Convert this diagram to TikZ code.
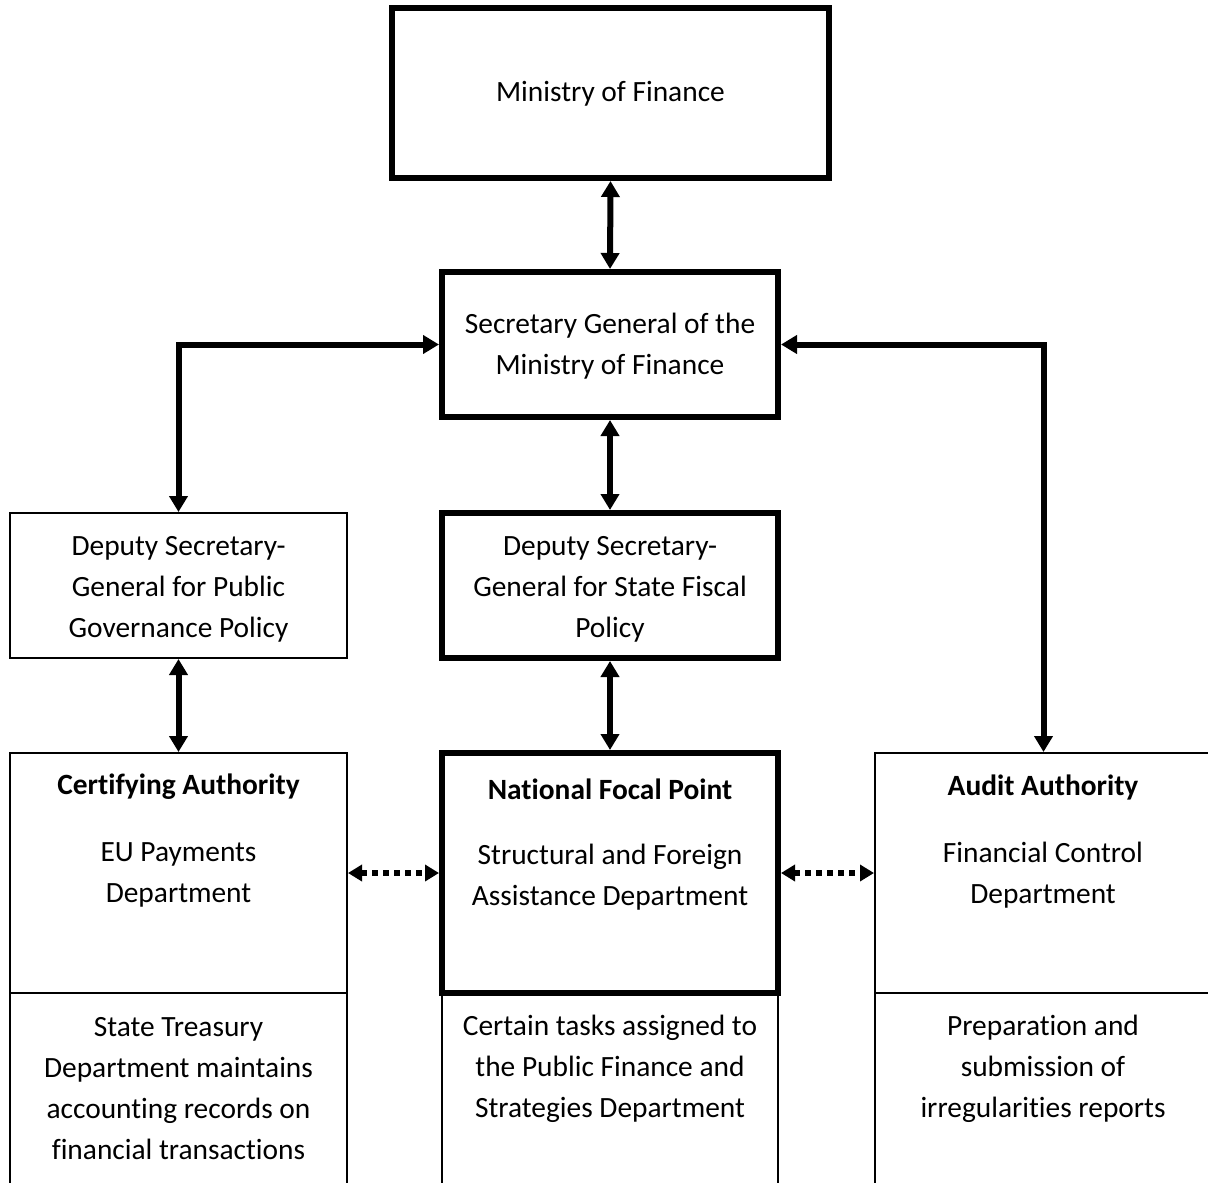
\documentclass[tikz,border=0pt]{standalone}
\usepackage{fontspec}
\setmainfont{Carlito}[Ligatures=NoCommon]
\usetikzlibrary{arrows.meta}
\begin{document}
\begin{tikzpicture}[x=0.5pt,y=-0.5pt,
 box/.style={draw, rectangle, inner sep=0pt},
 thickbox/.style={box, line width=3pt},
 thinbox/.style={box, line width=1pt},
 txt/.style={align=center, inner sep=0pt, font=\fontsize{14.7}{20.5}\selectfont},
 link/.style={line width=3pt, {Triangle[length=8pt,width=9pt]}-{Triangle[length=8pt,width=9pt]}},
 dotlink/.style={line width=3pt, dash pattern=on 3pt off 2.5pt, {Triangle[length=7pt,width=8pt]}-{Triangle[length=7pt,width=8pt]}},
]
\useasboundingbox (0,0) rectangle (1208,1182);
\clip (0,0) rectangle (1208,1182);
\fill[white] (0,0) rectangle (1208,1182);
% bottom sub-boxes (open at the bottom, clipped)
\node[thinbox, minimum width=168.5pt, minimum height=120pt] (cab) at (178.5,1113) {};
\node[thinbox, minimum width=168pt, minimum height=120pt] (nfpb) at (610,1113) {};
\node[thinbox, minimum width=168.5pt, minimum height=120pt] (aab) at (1043.5,1113) {};
% main boxes
\node[thickbox, minimum width=218.5pt, minimum height=85pt] (mof) at (610.5,93) {};
\node[thickbox, minimum width=168pt, minimum height=72.5pt] (sg) at (610,344.5) {};
\node[thinbox, minimum width=168.5pt, minimum height=72.5pt] (pgp) at (178.5,585.5) {};
\node[thickbox, minimum width=168pt, minimum height=72.5pt] (sfp) at (610,585.5) {};
\node[thinbox, minimum width=168.5pt, minimum height=120pt] (ca) at (178.5,873) {};
\node[thickbox, minimum width=168pt, minimum height=120pt] (nfp) at (610,873) {};
\node[thinbox, minimum width=168.5pt, minimum height=120pt] (aa) at (1043.5,873) {};
% texts
\node[txt] (tmof) at (610.5,94) {Ministry of Finance};
\node[txt] (tsg) at (610,346) {Secretary General of the\\Ministry of Finance};
\node[txt] (tpgp) at (178.5,589) {Deputy Secretary-\\General for Public\\Governance Policy};
\node[txt] (tsfp) at (610,589) {Deputy Secretary-\\General for State Fiscal\\Policy};
\node[txt] (tca) at (178.5,787) {\textbf{Certifying Authority}};
\node[txt] (tcab) at (178.5,875) {EU Payments\\Department};
\node[txt] (tnfp) at (610,789) {\textbf{National Focal Point}};
\node[txt] (tnfpb) at (610,877) {Structural and Foreign\\Assistance Department};
\node[txt] (taa) at (1043,787) {\textbf{Audit Authority}};
\node[txt] (taab) at (1043,875) {Financial Control\\Department};
\node[txt] (tcabb) at (178.5,1089) {State Treasury\\Department maintains\\accounting records on\\financial transactions};
\node[txt] (tnfpbb) at (610,1068.5) {Certain tasks assigned to\\the Public Finance and\\Strategies Department};
\node[txt] (taabb) at (1043,1068.5) {Preparation and\\submission of\\irregularities reports};
% connectors
\draw[link] (mof.south) -- (sg.north);
\draw[link] (sg.west) -| (pgp.north);
\draw[link] (sg.east) -| (aa.north);
\draw[link] (sg.south) -- (sfp.north);
\draw[link] (sfp.south) -- (nfp.north);
\draw[link] (pgp.south) -- (ca.north);
\draw[dotlink] (ca.east) -- (nfp.west);
\draw[dotlink] (nfp.east) -- (aa.west);
\end{tikzpicture}
\end{document}
